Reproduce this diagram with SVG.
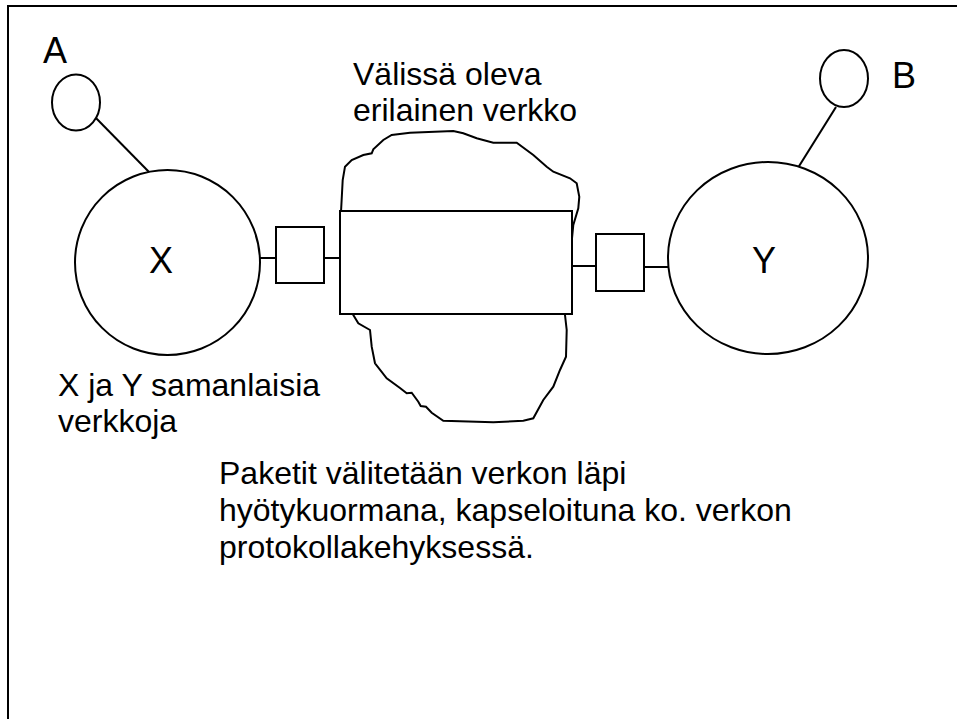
<svg xmlns="http://www.w3.org/2000/svg" width="957" height="719" viewBox="0 0 957 719">
<style>
.s{fill:none;stroke:#000;stroke-width:2}
.w{fill:#fff;stroke:#000;stroke-width:2}
.t{font-family:"Liberation Sans",Arial,sans-serif;font-size:32px;fill:#000}
.L{font-family:"Liberation Sans",Arial,sans-serif;font-size:36px;fill:#000}
</style>
<rect width="957" height="719" fill="#fff"/>
<g id="frame"><path class="s" d="M8,719 V6 H957"/></g>
<g id="connectors">
<line class="s" x1="92" y1="114" x2="149" y2="172"/>
<line class="s" x1="836" y1="107" x2="796" y2="171"/>
<line class="s" x1="260" y1="258" x2="276" y2="258"/>
<line class="s" x1="324" y1="258" x2="340" y2="258"/>
<line class="s" x1="572" y1="266" x2="596" y2="266"/>
<line class="s" x1="644" y1="267" x2="668" y2="267"/>
</g>
<g id="cloud">
<path class="w" d="M341,212 L342.7,180 345,166.7 351.7,160 363.3,155 371.7,153.3 373.3,149.3 383.3,140 391.7,135 410,132.7 453.3,131 463.3,133.3 476.7,138.3 493.3,142.7 516.7,142.7 533.3,155 546.7,166.7 553.3,171.7 570,178.3 576.7,183.3 579.3,196.7 578.3,208.3 573.3,225 566,300 565,315 566.7,330 566,356.7 560,370 553.3,386.7 543.3,400 533.3,418.3 523.3,420.7 493.3,422.3 443.3,420.7 431.7,412.7 426,406.7 420.7,406 418.3,401.7 411.7,392.7 406.7,393.3 400,388 386.7,378.3 375,363.3 371.7,346.7 370,330 358.3,323.3 353.3,315 345,300 Z"/>
</g>
<g id="network-rect"><rect class="w" x="340" y="211" width="232" height="103"/></g>
<g id="node-A">
<ellipse class="w" cx="76" cy="102.5" rx="24" ry="28"/>
<text class="L" x="43" y="63">A</text>
</g>
<g id="node-B">
<ellipse class="w" cx="844" cy="78.5" rx="24" ry="28.5"/>
<text class="L" x="892" y="88">B</text>
</g>
<g id="node-X">
<circle class="w" cx="167.5" cy="262.5" r="92.5"/>
<text class="L" x="149" y="273">X</text>
</g>
<g id="node-Y">
<ellipse class="w" cx="768" cy="258" rx="100" ry="96"/>
<text class="L" x="752" y="273">Y</text>
</g>
<g id="gw-left"><rect class="w" x="276" y="227" width="48" height="56"/></g>
<g id="gw-right"><rect class="w" x="596" y="234" width="48" height="57"/></g>
<g id="labels">
<text class="t" x="353" y="85">Välissä oleva</text>
<text class="t" x="353" y="121">erilainen verkko</text>
<text class="t" x="58" y="396">X ja Y samanlaisia</text>
<text class="t" x="58" y="432">verkkoja</text>
<text class="t" x="219" y="484">Paketit välitetään verkon läpi</text>
<text class="t" x="219" y="521">hyötykuormana, kapseloituna ko. verkon</text>
<text class="t" x="219" y="558">protokollakehyksessä.</text>
</g>
</svg>
